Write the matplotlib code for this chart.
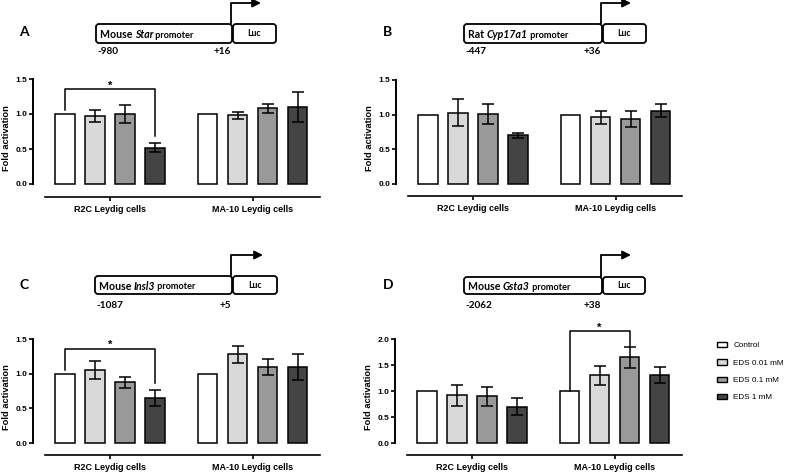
import matplotlib
matplotlib.use("Agg")
import matplotlib.pyplot as plt
from matplotlib.patches import FancyBboxPatch, Patch
import numpy as np

# ---------------- data ----------------
groups = ["R2C Leydig cells", "MA-10 Leydig cells"]
treatments = ["Control", "EDS 0.01 mM", "EDS 0.1 mM", "EDS 1 mM"]
bar_colors = ["#ffffff", "#d9d9d9", "#999999", "#444444"]

a_mean = [[1.00, 0.975, 1.00, 0.52], [1.00, 0.98, 1.08, 1.10]]
a_err = [[0.0, 0.085, 0.135, 0.065], [0.0, 0.05, 0.065, 0.215]]
b_mean = [[1.00, 1.03, 1.01, 0.70], [1.00, 0.96, 0.94, 1.06]]
b_err = [[0.0, 0.19, 0.15, 0.04], [0.0, 0.10, 0.12, 0.09]]
c_mean = [[1.00, 1.05, 0.875, 0.65], [1.00, 1.28, 1.10, 1.10]]
c_err = [[0.0, 0.13, 0.08, 0.11], [0.0, 0.12, 0.115, 0.19]]
d_mean = [[1.00, 0.92, 0.90, 0.70], [1.00, 1.30, 1.645, 1.30]]
d_err = [[0.0, 0.20, 0.18, 0.165], [0.0, 0.19, 0.21, 0.155]]

panel_letters = ["A", "B", "C", "D"]
promoter_species = ["Mouse", "Rat", "Mouse", "Mouse"]
promoter_genes = ["Star", "Cyp17a1", "Insl3", "Gsta3"]
promoter_start = ["-980", "-447", "-1087", "-2062"]
promoter_end = ["+16", "+36", "+5", "+38"]
y_tops = [1.5, 1.5, 1.5, 2.0]
y_ticks = [[0.0, 0.5, 1.0, 1.5]] * 3 + [[0.0, 0.5, 1.0, 1.5, 2.0]]
# significance brackets: (group, i1, i2, y_left_start, y_top, y_right_end)
brackets = [
    [(0, 0, 3, 1.06, 1.355, 0.69)],
    [],
    [(0, 0, 3, 1.06, 1.36, 0.87)],
    [(1, 0, 2, 1.00, 2.15, 1.87)],
]

W, H = 787, 472
fig = plt.figure(figsize=(W / 100, H / 100), dpi=100)

AX_FONT = "Liberation Sans"
DIA_FONT = "Lato"

# layout in pixels: spine_x, right_x, y0, ytop_px, line_y
layouts = [
    (33, 320, 184, 79, 197),
    (396, 682, 184, 80, 196),
    (33, 320, 443, 339, 455),
    (395, 682, 443, 339, 455),
]
# diagram layout: box_l, box_r, luc_r, box_t, box_b, arrow_top, arrow_tip, letter_x, letter_y, label_y
diagrams = [
    (96, 232, 276, 24, 43, 3, 261, 24, 32, 52),
    (464, 602, 646, 24, 43, 3, 631, 388, 32, 52),
    (95, 232, 277, 276, 294, 255, 263, 24, 285, 305),
    (464, 602, 645, 277, 294, 255, 631, 388, 285, 305),
]

means = [a_mean, b_mean, c_mean, d_mean]
errs = [a_err, b_err, c_err, d_err]

GROUP_OFF = 4.75
UNIT = 30.0

for p in range(4):
    spine_x, right_x, y0, ytp, line_y = layouts[p]
    ytop = y_tops[p]
    unit_y = (y0 - ytp) / ytop
    ymin = -(line_y - y0) / unit_y
    ax = fig.add_axes([spine_x / W, 1 - line_y / H, (right_x - spine_x) / W, (line_y - ytp) / H])
    ax.set_xlim(-32 / UNIT, (right_x - spine_x - 32) / UNIT)
    ax.set_ylim(ymin, ytop)
    for g in range(2):
        xs = np.arange(4) + g * GROUP_OFF
        m = np.array(means[p][g])
        e = np.array(errs[p][g])
        ax.bar(xs, m, width=19.5 / UNIT, color=bar_colors, edgecolor="black", linewidth=1.1, zorder=2)
        mask = e > 0
        ax.errorbar(xs[mask], m[mask], yerr=e[mask], fmt="none", ecolor="black",
                    elinewidth=1.1, capsize=4.3, capthick=1.1, zorder=3)
    for (g, i1, i2, yl, yt, yr) in brackets[p]:
        x1 = g * GROUP_OFF + i1
        x2 = g * GROUP_OFF + i2
        ax.plot([x1, x1, x2, x2], [yl, yt, yt, yr], color="black", lw=1.1, clip_on=False, zorder=4)
        ax.text((x1 + x2) / 2, yt + 0.8 / unit_y, "*", ha="center", va="baseline",
                fontsize=8, fontweight="bold", family=AX_FONT, clip_on=False)
    for s in ["top", "right"]:
        ax.spines[s].set_visible(False)
    ax.spines["left"].set_bounds(0, ytop)
    ax.spines["left"].set_linewidth(1.4)
    ax.spines["bottom"].set_bounds((12 - 32) / UNIT, (right_x - spine_x - 32) / UNIT)
    ax.spines["bottom"].set_linewidth(1.2)
    ax.set_yticks(y_ticks[p])
    ax.set_yticklabels(["%.1f" % v for v in y_ticks[p]], fontsize=6, fontweight="bold", family=AX_FONT)
    ax.set_xticks([1.5, 1.5 + GROUP_OFF])
    ax.set_xticklabels(groups, fontsize=6.5, fontweight="bold", family=AX_FONT)
    ax.tick_params(axis="y", direction="out", length=3, width=1.2, pad=1)
    ax.tick_params(axis="x", direction="out", length=3, width=1.2, pad=3)
    ax.set_ylabel("Fold activation", fontsize=6.7, fontweight="bold", family=AX_FONT, labelpad=3)
    ax.patch.set_visible(False)

# overlay for diagrams
ov = fig.add_axes([0, 0, 1, 1])
ov.set_xlim(0, W)
ov.set_ylim(H, 0)
ov.axis("off")
ov.patch.set_visible(False)
fig.canvas.draw()
renderer = fig.canvas.get_renderer()
inv = ov.transData.inverted()

for p in range(4):
    bl, br, lr, bt, bb, at, tip, lx, ly, laby = diagrams[p]
    ov.add_patch(FancyBboxPatch((bl, bt), br - bl, bb - bt, boxstyle="round,pad=0,rounding_size=3",
                                fc="white", ec="black", lw=1.3))
    ov.add_patch(FancyBboxPatch((br + 1, bt), lr - br - 1, bb - bt, boxstyle="round,pad=0,rounding_size=3",
                                fc="white", ec="black", lw=1.3))
    ov.text((br + 1 + lr) / 2, (bt + bb) / 2, "Luc", ha="center", va="center", fontsize=6.3,
            fontweight="bold", family=DIA_FONT)
    ax_x = br - 1
    ov.plot([ax_x, ax_x, tip - 4], [bt, at, at], color="black", lw=1.3, solid_capstyle="butt")
    ov.annotate("", xy=(tip, at), xytext=(tip - 6, at),
                arrowprops=dict(arrowstyle="-|>,head_length=0.5,head_width=0.25", color="black", lw=1.3,
                                shrinkA=0, shrinkB=0))
    # mixed-style label
    pieces = [(promoter_species[p] + " ", "normal", 7.6), (promoter_genes[p], "italic", 7.6),
              (" promoter", "normal", 6.6)]
    x = bl + 4
    yc = (bt + bb) / 2 + 1.5
    for txt, style, fs in pieces:
        t = ov.text(x, yc, txt, ha="left", va="center", fontsize=fs, fontweight="bold",
                    style=style, family=DIA_FONT)
        bb_ = t.get_window_extent(renderer=renderer)
        x = inv.transform((bb_.x1, bb_.y0))[0]
    ov.text(bl + 1, laby, promoter_start[p], ha="left", va="center", fontsize=7.2, fontweight="bold", family=DIA_FONT)
    ov.text(br - 1, laby, promoter_end[p], ha="right", va="center", fontsize=7.2, fontweight="bold", family=DIA_FONT)
    ov.text(lx, ly, panel_letters[p], ha="center", va="center", fontsize=10, fontweight="bold", family=DIA_FONT)

# legend
handles = [Patch(facecolor=c, edgecolor="black", linewidth=1.0) for c in bar_colors]
fig.legend(handles, treatments, loc="upper left", bbox_to_anchor=(717 / W, 1 - 342 / H),
           frameon=False, prop={"family": AX_FONT, "size": 5.9}, handlelength=1.25, handleheight=0.6,
           labelspacing=1.2, handletextpad=0.75, borderaxespad=0, borderpad=0)

fig.savefig("out.png", dpi=100)
